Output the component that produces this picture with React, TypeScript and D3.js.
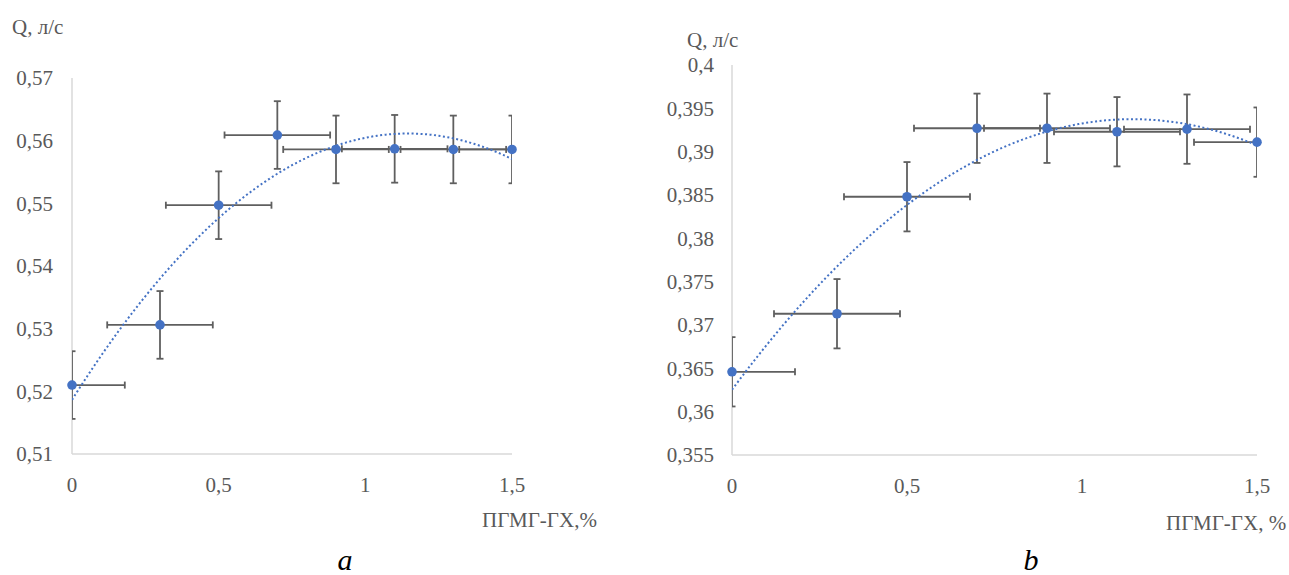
import React from "react";
import * as d3 from "d3";

// ---- data ----
const xValues = [0, 0.3, 0.5, 0.7, 0.9, 1.1, 1.3, 1.5];
const qA = [0.521, 0.5306, 0.5497, 0.5609, 0.5586, 0.5587, 0.5586, 0.5586];
const qB = [0.3646, 0.3713, 0.3848, 0.3927, 0.3927, 0.3923, 0.3926, 0.3911];
const xErr = 0.18;
const yErrA = 0.0054;
const yErrB = 0.004;
const xTicks = [0, 0.5, 1, 1.5];
const yTicksA = [0.51, 0.52, 0.53, 0.54, 0.55, 0.56, 0.57];
const yTicksB = [0.355, 0.36, 0.365, 0.37, 0.375, 0.38, 0.385, 0.39, 0.395, 0.4];

const locale = d3.formatLocale({ decimal: ",", thousands: " ", grouping: [3], currency: ["", ""] });
const fmt = locale.format("~g");

const FONT = "'Liberation Serif', 'Times New Roman', serif";
const TXT = "#595959";
const BLUE = "#4472C4";
const ERR = "#5f5f5f";
const FS = 21;

function quadFit(xs: number[], ys: number[]) {
  // least squares y = a + b x + c x^2
  const S = [0, 0, 0, 0, 0];
  const T = [0, 0, 0];
  xs.forEach((x, i) => {
    for (let k = 0; k < 5; k++) S[k] += Math.pow(x, k);
    for (let k = 0; k < 3; k++) T[k] += ys[i] * Math.pow(x, k);
  });
  const M = [
    [S[0], S[1], S[2], T[0]],
    [S[1], S[2], S[3], T[1]],
    [S[2], S[3], S[4], T[2]],
  ];
  for (let i = 0; i < 3; i++) {
    let p = i;
    for (let r = i + 1; r < 3; r++) if (Math.abs(M[r][i]) > Math.abs(M[p][i])) p = r;
    [M[i], M[p]] = [M[p], M[i]];
    for (let r = 0; r < 3; r++) {
      if (r === i) continue;
      const f = M[r][i] / M[i][i];
      for (let c = i; c < 4; c++) M[r][c] -= f * M[i][c];
    }
  }
  const a = M[0][3] / M[0][0], b = M[1][3] / M[1][1], c = M[2][3] / M[2][2];
  return (x: number) => a + b * x + c * x * x;
}

type PanelProps = {
  id: string;
  ys: number[];
  yErr: number;
  yTicks: number[];
  xRange: [number, number];
  yRange: [number, number];
  yDomain: [number, number];
  yLabelX: number;
  qLabel: [number, number];
  xLabel: string;
  xLabelPos: [number, number];
};

function Panel(p: PanelProps) {
  const x = d3.scaleLinear().domain([0, 1.5]).range(p.xRange);
  const y = d3.scaleLinear().domain(p.yDomain).range(p.yRange);
  const f = quadFit(xValues, p.ys);
  const fx = d3.range(0, 1.5001, 0.01);
  const line = d3.line<number>().x((d) => x(d)).y((d) => y(f(d)))(fx) || "";
  const [x0, x1] = p.xRange;
  const [yb, yt] = p.yRange;
  const cap = 3.5;
  return (
    <g>
      <defs>
        <clipPath id={p.id}>
          <rect x={x0} y={yt - 20} width={x1 - x0 + 0.01} height={yb - yt + 40} />
        </clipPath>
      </defs>
      {/* axes */}
      <line x1={x0} x2={x0} y1={yt} y2={yb} stroke="#d9d9d9" strokeWidth={1.5} />
      <line x1={x0} x2={x1} y1={yb} y2={yb} stroke="#d9d9d9" strokeWidth={1.5} />
      {p.yTicks.map((t) => (
        <text key={t} x={p.yLabelX} y={y(t)} dy="0.35em" textAnchor="end" fontFamily={FONT} fontSize={FS} fill={TXT}>
          {fmt(t)}
        </text>
      ))}
      {xTicks.map((t) => (
        <text key={t} x={x(t)} y={yb + 31} dy="0.35em" textAnchor="middle" fontFamily={FONT} fontSize={FS} fill={TXT}>
          {fmt(t)}
        </text>
      ))}
      <text x={p.qLabel[0]} y={p.qLabel[1]} fontFamily={FONT} fontSize={FS} fill={TXT}>
        Q, л/с
      </text>
      <text x={p.xLabelPos[0]} y={p.xLabelPos[1]} fontFamily={FONT} fontSize={FS} fill={TXT}>
        {p.xLabel}
      </text>
      <g clipPath={`url(#${p.id})`}>
        {xValues.map((xv, i) => {
          const cx = x(xv), cy = y(p.ys[i]);
          const yt2 = y(p.ys[i] + p.yErr), yb2 = y(p.ys[i] - p.yErr);
          const xl = x(xv - xErr), xr = x(xv + xErr);
          return (
            <g key={i} stroke={ERR} strokeWidth={1.8} fill="none">
              <line x1={cx} x2={cx} y1={yt2} y2={yb2} />
              <line x1={cx - cap} x2={cx + cap} y1={yt2} y2={yt2} />
              <line x1={cx - cap} x2={cx + cap} y1={yb2} y2={yb2} />
              <line x1={xl} x2={xr} y1={cy} y2={cy} />
              <line x1={xl} x2={xl} y1={cy - cap} y2={cy + cap} />
              <line x1={xr} x2={xr} y1={cy - cap} y2={cy + cap} />
            </g>
          );
        })}
        <path d={line} fill="none" stroke={BLUE} strokeWidth={2} strokeDasharray="2,2.5" />
      </g>
      {xValues.map((xv, i) => (
        <circle key={i} cx={x(xv)} cy={y(p.ys[i])} r={4.8} fill={BLUE} />
      ))}
    </g>
  );
}

export default function App() {
  return (
    <svg width={1289} height={575} style={{ position: "absolute", left: 0, top: 0, background: "#fff" }}>
      <rect width={1289} height={575} fill="#fff" />
      <Panel
        id="clipA"
        ys={qA}
        yErr={yErrA}
        yTicks={yTicksA}
        xRange={[72, 512]}
        yRange={[454, 78]}
        yDomain={[0.51, 0.57]}
        yLabelX={53}
        qLabel={[12, 34]}
        xLabel="ПГМГ-ГХ,%"
        xLabelPos={[482, 527]}
      />
      <Panel
        id="clipB"
        ys={qB}
        yErr={yErrB}
        yTicks={yTicksB}
        xRange={[732, 1257]}
        yRange={[455, 65]}
        yDomain={[0.355, 0.4]}
        yLabelX={714}
        qLabel={[687, 47]}
        xLabel="ПГМГ-ГХ, %"
        xLabelPos={[1166, 530]}
      />
      <text x={345} y={570} textAnchor="middle" fontFamily={FONT} fontStyle="italic" fontSize={30} fill="#000">a</text>
      <text x={1031} y={570} textAnchor="middle" fontFamily={FONT} fontStyle="italic" fontSize={30} fill="#000">b</text>
    </svg>
  );
}
